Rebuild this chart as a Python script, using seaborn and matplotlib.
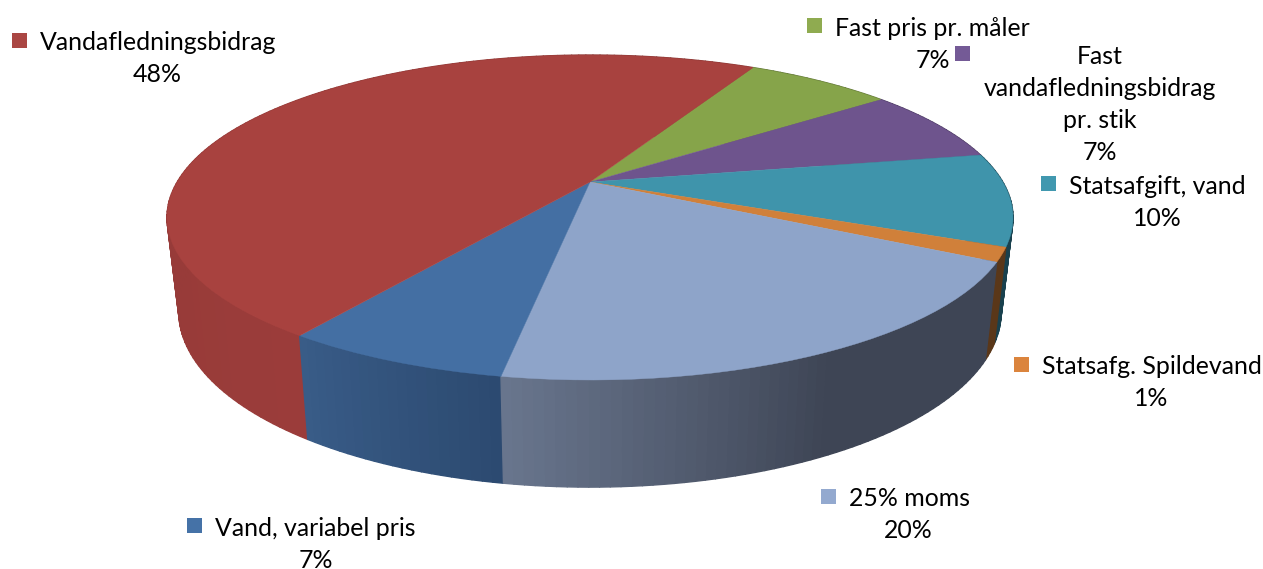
import matplotlib
matplotlib.use("Agg")
import matplotlib.pyplot as plt
import matplotlib.transforms as mtransforms
from matplotlib.collections import PolyCollection
from matplotlib.patches import Rectangle
import numpy as np
import seaborn as sns

categories = [
    "Fast pris pr. måler",
    "Fast\nvandafledningsbidrag\npr. stik",
    "Statsafgift, vand",
    "Statsafg. Spildevand",
    "25% moms",
    "Vand, variabel pris",
    "Vandafledningsbidrag",
]
values = [6.9, 7.4, 9.2, 1.4, 20.0, 7.1, 48.0]
percent_labels = ["7%", "7%", "10%", "1%", "20%", "7%", "48%"]
top_colors = ["#86A44A", "#6E548D", "#3F94AB", "#D0803A", "#8EA4C9", "#446FA3", "#A8423F"]
key_colors = ["#8FAB50", "#745A96", "#4198AF", "#DB843D", "#93A9CF", "#4572A7", "#AA4643"]
# side wall colours at the start and end of each slice, clockwise
side_from = ["#5A6E32", "#49385E", "#19414E", "#5A3719", "#3E4555", "#2C4A70", "#9B3C3A"]
side_to = ["#5A6E32", "#49385E", "#19414E", "#5A3719", "#69768E", "#395C88", "#893835"]

# where each label sits: square x, square y, text centre x, first line y
label_pos = [
    (807, 18, 933, 28),
    (955, 46, 1100, 56),
    (1041, 176, 1157, 186),
    (1014, 357, 1151, 366),
    (821, 489, 908, 498),
    (187, 518, 316, 528),
    (12, 33, 157, 42),
]

START_ANGLE = 61.9
CX, CY = 590, 182
P = 0.2185
KX, KY = 412.8, 154.7


class Perspective(mtransforms.Transform):
    input_dims = output_dims = 2
    is_separable = False

    def transform_non_affine(self, values):
        x, y = values[:, 0], values[:, 1]
        w = 1 + P * y
        return np.column_stack([CX + KX * x / w, CY - KY * y / w])


def rim(theta):
    x, y = np.cos(theta), np.sin(theta)
    w = 1 + P * y
    top = np.column_stack([CX + KX * x / w, CY - KY * y / w])
    bottom = np.column_stack([CX + 0.972 * KX * x / w, top[:, 1] + 91 / (1 + 0.151 * y)])
    return top, bottom


sns.set_theme(style="white")
plt.rcParams["font.family"] = ["Lato", "DejaVu Sans"]

fig = plt.figure(figsize=(12.63, 5.69), dpi=100)
ax = fig.add_axes([0, 0, 1, 1])

# side walls, back to front
edges = START_ANGLE - np.cumsum([0] + values) * 3.6
quads, quad_colors, depth = [], [], []
for i, value in enumerate(values):
    n = max(4, int(value * 3))
    theta = np.radians(np.linspace(edges[i], edges[i + 1], n + 1))
    top, bottom = rim(theta)
    c0 = np.array(matplotlib.colors.to_rgb(side_from[i]))
    c1 = np.array(matplotlib.colors.to_rgb(side_to[i]))
    for j in range(n):
        quads.append([top[j], top[j + 1], bottom[j + 1], bottom[j]])
        # moms side stays at its darkest colour for the first part
        f = (j + 0.5) / n
        if categories[i] == "25% moms":
            f = max(0, (f - 0.48) / 0.52)
        quad_colors.append(c0 + (c1 - c0) * f)
        depth.append(np.sin(theta[j]))
order = np.argsort(depth)[::-1]
ax.add_collection(PolyCollection(
    [quads[k] for k in order],
    facecolors=[quad_colors[k] for k in order],
    edgecolors=[quad_colors[k] for k in order],
    linewidths=1.0,
))

# top face
wedges, _ = ax.pie(values, colors=top_colors, startangle=START_ANGLE, counterclock=False, normalize=True)
persp = Perspective()
for wedge in wedges:
    wedge.set_transform(persp + ax.transData)
    wedge.set_edgecolor(wedge.get_facecolor())
    wedge.set_linewidth(0.3)
    wedge.set_zorder(3)

ax.set_aspect("auto")
ax.set_xlim(0, 1263)
ax.set_ylim(569, 0)
ax.axis("off")

for name, pct, color, (sx, sy, tx, ty) in zip(categories, percent_labels, key_colors, label_pos):
    ax.add_patch(Rectangle((sx, sy), 15, 15, facecolor=color, edgecolor="none", zorder=4))
    lines = name.split("\n") + [pct]
    for k, line in enumerate(lines):
        # first line of single-name labels starts right of the square
        x = tx
        ha = "center"
        if k == 0 and len(lines) == 2:
            x, ha = sx + 28, "left"
        ax.text(x, ty + 32 * k, line, ha=ha, va="center", fontsize=17.9, color="black", zorder=5)

fig.savefig("out.png", dpi=100)
